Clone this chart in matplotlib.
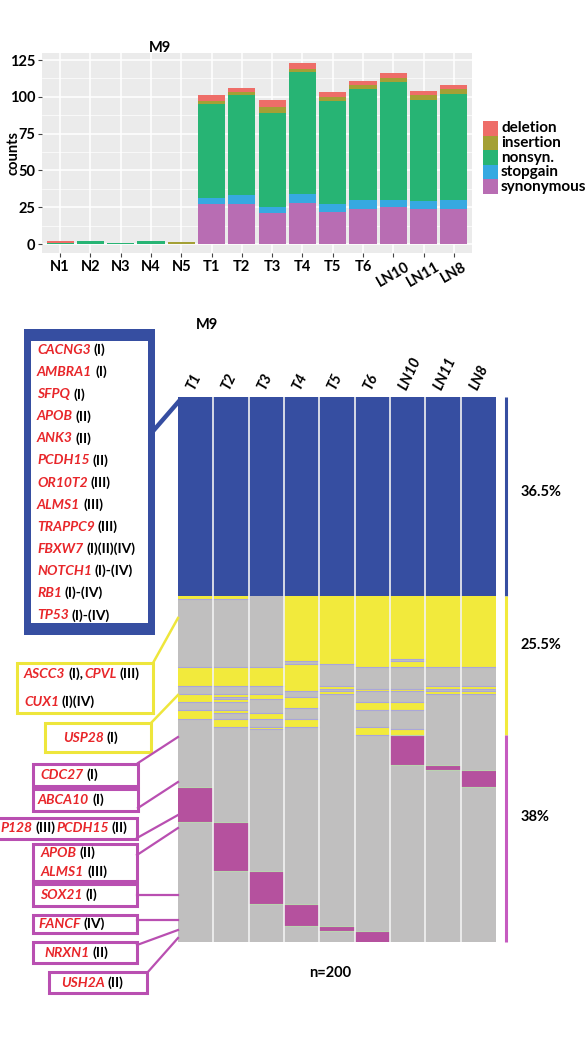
import numpy as np
import matplotlib
matplotlib.use('Agg')
import matplotlib.pyplot as plt
from matplotlib.colors import ListedColormap
from matplotlib.patches import Rectangle

plt.rcParams['font.family'] = ['Lato', 'DejaVu Sans']

W, H = 586, 1038

# ---- top panel: mutation counts per sample
samples = ['N1', 'N2', 'N3', 'N4', 'N5', 'T1', 'T2', 'T3', 'T4', 'T5', 'T6', 'LN10', 'LN11', 'LN8']
synonymous = [0, 0, 0, 0, 0, 27, 27, 21, 28, 22, 24, 25, 24, 24]
stopgain = [0, 0, 0, 0, 0, 4, 6, 4, 6, 5, 6, 5, 5, 6]
nonsyn = [1, 2, 1, 2, 0, 64, 68, 64, 83, 70, 75, 80, 69, 72]
insertion = [0, 0, 0, 0, 1.5, 2, 2, 4, 2, 3, 3, 3, 3, 3]
deletion = [1, 0, 0, 0, 0, 4, 3, 5, 4, 3, 3, 3, 3, 3]
mut_types = ['deletion', 'insertion', 'nonsyn.', 'stopgain', 'synonymous']
mut_colors = ['#EE6D68', '#A4A035', '#27B474', '#36A9E1', '#B86DB3']

# ---- bottom panel: mutation tree heatmap (rows = mutations, n=200)
regions = ['T1', 'T2', 'T3', 'T4', 'T5', 'T6', 'LN10', 'LN11', 'LN8']
n_mut = 200
n_trunk = 73
n_shared = 51
n_private = 76
shared_rows = {
    'T1': [(73, 74), (99, 106), (109, 112), (115, 118)],
    'T2': [(73, 74), (99, 106), (109, 110), (111, 112), (115, 116), (118, 121)],
    'T3': [(99, 106), (109, 111), (116, 118), (121, 122)],
    'T4': [(73, 97), (98, 108), (110, 114), (118, 121)],
    'T5': [(73, 98), (106, 107), (108, 109)],
    'T6': [(73, 99), (107, 108), (112, 115), (121, 124)],
    'LN10': [(73, 96), (97, 99), (107, 108), (112, 115), (122, 124)],
    'LN11': [(73, 99), (106, 107), (108, 109)],
    'LN8': [(73, 99), (106, 107), (108, 109)],
}
private_rows = {
    'LN10': (124, 135), 'LN11': (135, 137), 'LN8': (137, 143),
    'T1': (143, 156), 'T2': (156, 174), 'T3': (174, 186),
    'T4': (186, 194), 'T5': (194, 196), 'T6': (196, 200),
}

trunk_genes = [('CACNG3', '(I)'), ('AMBRA1', '(I)'), ('SFPQ', '(I)'), ('APOB', '(II)'),
               ('ANK3', '(II)'), ('PCDH15', '(II)'), ('OR10T2', '(III)'), ('ALMS1', '(III)'),
               ('TRAPPC9', '(III)'), ('FBXW7', '(I)(II)(IV)'), ('NOTCH1', '(I)-(IV)'),
               ('RB1', '(I)-(IV)'), ('TP53', '(I)-(IV)')]

BLUE, YELLOW, GREY, PURPLE = '#364EA1', '#F2EA3C', '#C0BFBF', '#B5519E'
RED = '#E8262A'
BOXP = '#B94FB1'
YBOX = '#EEE63C'

fig = plt.figure(figsize=(W / 100, H / 100), dpi=100)


def px_axes(x0, y0, x1, y1):
    return fig.add_axes([x0 / W, 1 - y1 / H, (x1 - x0) / W, (y1 - y0) / H])


# ---------------- stacked bar chart ----------------
ax1 = px_axes(42, 53, 472, 253)
ax1.set_facecolor('#EBEBEB')
x = np.arange(len(samples))
bottom = np.zeros(len(samples))
for vals, col in zip([synonymous, stopgain, nonsyn, insertion, deletion], mut_colors[::-1]):
    ax1.bar(x, vals, 0.9, bottom=bottom, color=col, zorder=3)
    bottom += np.array(vals)
ax1.set_xlim(-0.6, len(samples) - 0.4)
ax1.set_ylim(-6.1, 129.8)
ax1.set_yticks([0, 25, 50, 75, 100, 125])
ax1.set_yticks([12.5, 37.5, 62.5, 87.5, 112.5], minor=True)
ax1.set_yticklabels(['0', '25', '50', '75', '100', '125'], fontweight='bold', fontsize=10.5)
ax1.set_xticks(x)
ax1.set_xticklabels(samples, fontweight='bold', fontsize=10.5)
for lab in ax1.get_xticklabels():
    if lab.get_text().startswith('LN'):
        lab.set_rotation(30)
ax1.grid(which='major', color='white', lw=1.1, zorder=0)
ax1.grid(which='minor', axis='y', color='white', lw=0.5, zorder=0)
ax1.tick_params(which='major', length=3, color='#444444', pad=2)
ax1.tick_params(which='minor', length=0)
for s in ax1.spines.values():
    s.set_visible(False)

# ---------------- heatmap ----------------
mat = np.zeros((n_mut, len(regions)))
mat[:n_trunk, :] = 1
for c, r in enumerate(regions):
    for a, b in shared_rows[r]:
        mat[a:b, c] = 2
    a, b = private_rows[r]
    mat[a:b, c] = 3

ax2 = px_axes(178, 397, 496, 942)
ax2.imshow(mat, cmap=ListedColormap([GREY, BLUE, YELLOW, PURPLE]), vmin=0, vmax=3,
           aspect='auto', interpolation='nearest', extent=(0, len(regions), n_mut, 0))
# lavender borders where the category changes inside a column
for c in range(len(regions)):
    col = mat[:, c]
    for r in range(n_trunk + 1, n_mut):
        if col[r] != col[r - 1]:
            lc = '#B9D3B0' if 3 in (col[r], col[r - 1]) else '#A9A6DA'
            ax2.plot([c, c + 1], [r, r], color=lc, lw=0.8)
for c in range(1, len(regions)):
    ax2.axvline(c, color='#F2F2F2', lw=1.2)
ax2.set_xlim(0, len(regions))
ax2.set_ylim(n_mut, 0)
ax2.axis('off')
for c, r in enumerate(regions):
    ax2.text(c + 0.36, -2.8, r, rotation=65, rotation_mode='anchor', ha='left', va='center',
             fontsize=10.5, fontweight='bold', style='italic')

# clonal group bars on the right
groups = [(0, n_trunk, BLUE), (n_trunk, n_trunk + n_shared, YELLOW),
          (n_trunk + n_shared, n_trunk + n_shared + n_private, '#C65BC0')]
label_rows = [35, 91, 154]
for (a, b, col), ly in zip(groups, label_rows):
    ax2.plot([9.28, 9.28], [a, b], color=col, lw=2.2, clip_on=False, solid_capstyle='butt')
    ax2.text(9.7, ly, f'{(b - a) / n_mut * 100:g}%', fontsize=10.5, fontweight='bold',
             va='center', ha='left', clip_on=False)

# ---------------- overlay: titles, legend, annotation boxes ----------------
ov = fig.add_axes([0, 0, 1, 1])
ov.set_xlim(0, W)
ov.set_ylim(H, 0)
ov.axis('off')
ov.patch.set_alpha(0)

ov.text(160, 48, 'M9', fontsize=10.5, fontweight='bold', ha='center', va='center')
ov.text(13, 153, 'counts', fontsize=10.5, fontweight='bold', ha='center', va='center', rotation=90)
ov.text(207, 325, 'M9', fontsize=10.5, fontweight='bold', ha='center', va='center')
ov.text(330, 973, 'n=200', fontsize=10.5, fontweight='bold', ha='center', va='center')

for i, (name, col) in enumerate(zip(mut_types, mut_colors)):
    ov.add_patch(Rectangle((483, 121 + i * 14.6), 15, 14.6, color=col, lw=0))
    ov.text(501, 128.5 + i * 14.6, name, fontsize=11, fontweight='bold', va='center')

renderer = fig.canvas.get_renderer()


def rich(x0, y0, parts, size=10):
    xx = x0
    for s, is_gene in parts:
        t = ov.text(xx, y0, s, fontsize=size, fontweight='bold', va='center', ha='left',
                    color=RED if is_gene else 'black', style='italic' if is_gene else 'normal')
        bb = t.get_window_extent(renderer)
        xx += bb.width + (3 if is_gene else 1)


def box(x0, y0, x1, y1, col, lw=2.2):
    ov.add_patch(Rectangle((x0, y0), x1 - x0, y1 - y0, fill=False, ec=col, lw=lw))


# trunk box
ov.add_patch(Rectangle((24, 329), 131, 306, color=BLUE, lw=0))
ov.add_patch(Rectangle((31, 341), 117, 282, color='white', lw=0))
ov.plot([154, 180], [430, 400], color=BLUE, lw=3.2)
for i, (g, roman) in enumerate(trunk_genes):
    rich(37, 350 + i * 22.1, [(g, True), (roman, False)])

# shared (yellow) boxes
box(17, 663, 153, 713, YBOX)
rich(24, 674, [('ASCC3', True), ('(I),', False), ('CPVL', True), ('(III)', False)])
rich(24, 702, [('CUX1', True), ('(I)(IV)', False)])
ov.plot([153, 178], [663, 618], color=YBOX, lw=1.8)
box(45, 723, 151, 752, YBOX)
rich(63, 738, [('USP28', True), ('(I)', False)])
ov.plot([151, 178], [723, 695], color=YBOX, lw=1.8)

# private (purple) boxes
pboxes = [
    ((33, 764, 138, 786), [(40, 775, [('CDC27', True), ('(I)', False)])], ((138, 763), (178, 737))),
    ((33, 789, 138, 811), [(38, 800, [('ABCA10', True), ('(I)', False)])], ((138, 808), (178, 782))),
    ((-5, 818, 137, 839), [(0, 828, [('P128', True), ('(III)', False), ('PCDH15', True), ('(II)', False)])],
     ((137, 838), (178, 815))),
    ((33, 844, 137, 881), [(41, 853, [('APOB', True), ('(II)', False)]),
                           (41, 872, [('ALMS1', True), ('(III)', False)])], ((137, 855), (178, 828))),
    ((33, 884, 137, 906), [(40, 895, [('SOX21', True), ('(I)', False)])], ((137, 895), (178, 895))),
    ((33, 915, 137, 933), [(38, 924, [('FANCF', True), ('(IV)', False)])], ((137, 920), (178, 920))),
    ((33, 942, 137, 963), [(44, 953, [('NRXN1', True), ('(II)', False)])], ((137, 945), (178, 930))),
    ((49, 972, 147, 993), [(61, 983, [('USH2A', True), ('(II)', False)])], ((147, 973), (178, 938))),
]
for (x0, y0, x1, y1), texts, (p, q) in pboxes:
    box(x0, y0, x1, y1, BOXP)
    for tx, ty, parts in texts:
        rich(tx, ty, parts)
    ov.plot([p[0], q[0]], [p[1], q[1]], color=BOXP, lw=1.6)

fig.savefig('out.png', dpi=100)
